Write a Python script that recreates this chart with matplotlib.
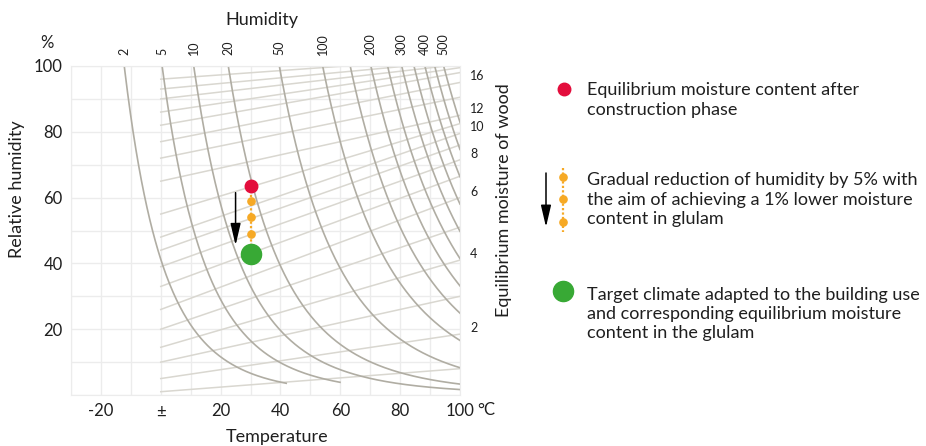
"""
Keylwerth-style climate diagram: relative humidity vs temperature with
absolute-humidity isolines and wood equilibrium-moisture lines, plus the
drying path used for the glulam after the construction phase.
"""

import numpy as np
import matplotlib
import matplotlib.pyplot as plt
from matplotlib.transforms import blended_transform_factory, offset_copy

matplotlib.use("Agg")

# absolute humidity isolines (g/m3) -- levels, which get a label, where they stop
HUMIDITY_LEVELS = [2, 5, 10, 20, 50, 100, 150, 200, 250, 300, 350, 400, 450, 500]
HUMIDITY_END_T = [42, 60, 100, 100, 100, 100, 100, 100, 100, 100, 100, 100, 100, 100]
HUMIDITY_LABELLED = [2, 5, 10, 20, 50, 100, 200, 300, 400, 500]

# equilibrium moisture content lines (%), RH read at 0 degC and at 100 degC
EMC_LEVELS = [1, 2, 3, 4, 5, 6, 7, 8, 9, 10, 11, 12, 14, 16, 18, 20, 22, 24, 26]
EMC_RH_AT_0 = [1, 5, 10, 14.5, 20, 26, 33, 39, 44, 48, 55, 65, 72, 77, 82, 86, 90, 93, 96]
EMC_RH_AT_100 = [8, 18.5, 30, 41, 51, 60, 66.5, 71.5, 76, 79.5, 82.5, 85, 90.5, 95,
                 98, 99.5, 100.5, 101.5, 102.5]
EMC_LABELLED = [2, 4, 6, 8, 10, 12, 16]

# drying path
PATH_T = 30
START_RH = 63.5
STEP_RH = [59, 54, 49]
TARGET_RH = 43
ARROW_T = 25
ARROW_RH = (61.5, 45.5)

X_TICKS = [-20, 0, 20, 40, 60, 80, 100]
X_TICK_LABELS = ["-20", "±", "20", "40", "60", "80", "100"]
Y_TICKS = [20, 40, 60, 80, 100]

LEGEND_TEXT = [
    "Equilibrium moisture content after\nconstruction phase",
    "Gradual reduction of humidity by 5% with\nthe aim of achieving a 1% lower moisture\ncontent in glulam",
    "Target climate adapted to the building use\nand corresponding equilibrium moisture\ncontent in the glulam",
]

INK = "#1f1f1f"
GRID = "#ececec"
CURVE = "#b0ada3"
EMC_LINE = "#d9d7d0"
RED = "#e30d3c"
ORANGE = "#f6a925"
GREEN = "#38a935"

plt.rcParams["font.family"] = ["Lato", "DejaVu Sans"]


def sat_density(t):
    # saturation vapour density over water, g/m3 (Magnus)
    es = 611.2 * np.exp(17.62 * t / (243.12 + t))
    return es * 18.015 / (8.314 * (t + 273.15))


def main():
    fig = plt.figure(figsize=(9.26, 4.46), dpi=100)
    ax = fig.add_axes([71 / 926, 51 / 446, 389 / 926, 329 / 446])
    ax.set_xlim(-30, 100)
    ax.set_ylim(0, 100)

    ax.set_xticks(X_TICKS)
    ax.set_xticklabels(X_TICK_LABELS)
    ax.set_yticks(Y_TICKS)
    ax.set_xticks(np.arange(-30, 101, 10), minor=True)
    ax.set_yticks(np.arange(0, 101, 10), minor=True)
    ax.grid(True, which="both", color=GRID, lw=1.0, zorder=0)
    ax.tick_params(which="both", length=0, labelsize=12, colors=INK, pad=6)
    for sp in ax.spines.values():
        sp.set_color(GRID)
    ax.set_axisbelow(True)

    # moisture lines
    for rh0, rh100 in zip(EMC_RH_AT_0, EMC_RH_AT_100):
        ax.plot([0, 100], [rh0, rh100], color=EMC_LINE, lw=1.1, zorder=1)

    # absolute humidity isolines
    t = np.linspace(-15, 100, 500)
    sat = sat_density(t)
    for ah, t_end in zip(HUMIDITY_LEVELS, HUMIDITY_END_T):
        keep = t <= t_end
        ax.plot(t[keep], 100 * ah / sat[keep], color=CURVE, lw=1.2, zorder=2)

    top = blended_transform_factory(ax.transData, ax.transAxes)
    top = offset_copy(top, fig=fig, y=11, units="dots")
    for ah in HUMIDITY_LABELLED:
        t100 = np.interp(np.log(ah), np.log(sat), t)
        ax.text(t100, 1.0, str(ah), transform=top, rotation=90, ha="center",
                va="bottom", fontsize=9, color=INK)

    right = blended_transform_factory(ax.transAxes, ax.transData)
    right = offset_copy(right, fig=fig, x=10, y=6, units="dots")
    for lvl, rh in zip(EMC_LEVELS, EMC_RH_AT_100):
        if lvl in EMC_LABELLED:
            ax.text(1.0, rh, str(lvl), transform=right, ha="left", va="center",
                    fontsize=9, color=INK)

    # drying path
    ax.plot([PATH_T, PATH_T], [START_RH, TARGET_RH], color=ORANGE, lw=1.6,
            ls=(0, (1, 1)), zorder=3)
    ax.plot([PATH_T] * len(STEP_RH), STEP_RH, "o", ms=5.2, color=ORANGE, zorder=4)
    ax.plot([PATH_T], [START_RH], "o", ms=9, color=RED, zorder=5)
    ax.plot([PATH_T], [TARGET_RH], "o", ms=14.5, color=GREEN, zorder=5)
    ax.annotate("", xy=(ARROW_T, ARROW_RH[1]), xytext=(ARROW_T, ARROW_RH[0]),
                arrowprops=dict(arrowstyle="-|>,head_length=1.2,head_width=0.28",
                                color="black", lw=1.1, mutation_scale=11,
                                shrinkA=0, shrinkB=0), zorder=6)

    # axis titles
    ax.text(100, 0, "°C", transform=offset_copy(ax.transData, fig=fig, x=17, y=-15, units="dots"),
            ha="left", va="center", fontsize=12, color=INK)
    fig.text(262 / 926, 1 - 20 / 446, "Humidity", ha="center", va="center", fontsize=13, color=INK)
    fig.text(277 / 926, 1 - 437 / 446, "Temperature", ha="center", va="center", fontsize=13, color=INK)
    fig.text(47 / 926, 1 - 43 / 446, "%", ha="center", va="center", fontsize=12, color=INK)
    fig.text(17 / 926, 1 - 189 / 446, "Relative humidity", ha="center", va="center",
             rotation=90, fontsize=13, color=INK)
    fig.text(504 / 926, 1 - 200 / 446, "Equilibrium moisture of wood", ha="center",
             va="center", rotation=90, fontsize=13, color=INK)

    # legend on the right, in pixel coordinates
    lg = fig.add_axes([0, 0, 1, 1])
    lg.set_xlim(0, 926)
    lg.set_ylim(446, 0)
    lg.axis("off")
    lg.patch.set_alpha(0)

    lg.plot([564], [89], "o", ms=9, color=RED)
    lg.plot([563, 563], [168, 232], color=ORANGE, lw=1.6, ls=(0, (1, 1)))
    lg.plot([563, 563, 563], [177, 199, 222], "o", ms=5.2, color=ORANGE)
    lg.annotate("", xy=(546, 227), xytext=(546, 173),
                arrowprops=dict(arrowstyle="-|>,head_length=1.2,head_width=0.28",
                                color="black", lw=1.1, mutation_scale=11,
                                shrinkA=0, shrinkB=0))
    lg.plot([563], [291], "o", ms=14.5, color=GREEN)

    for label, yc in zip(LEGEND_TEXT, [100, 199.5, 314]):
        lg.text(587, yc, label, ha="left", va="center", fontsize=13,
                linespacing=1.25, color=INK)

    fig.savefig("out.png", dpi=100)
    plt.close(fig)


if __name__ == "__main__":
    main()
